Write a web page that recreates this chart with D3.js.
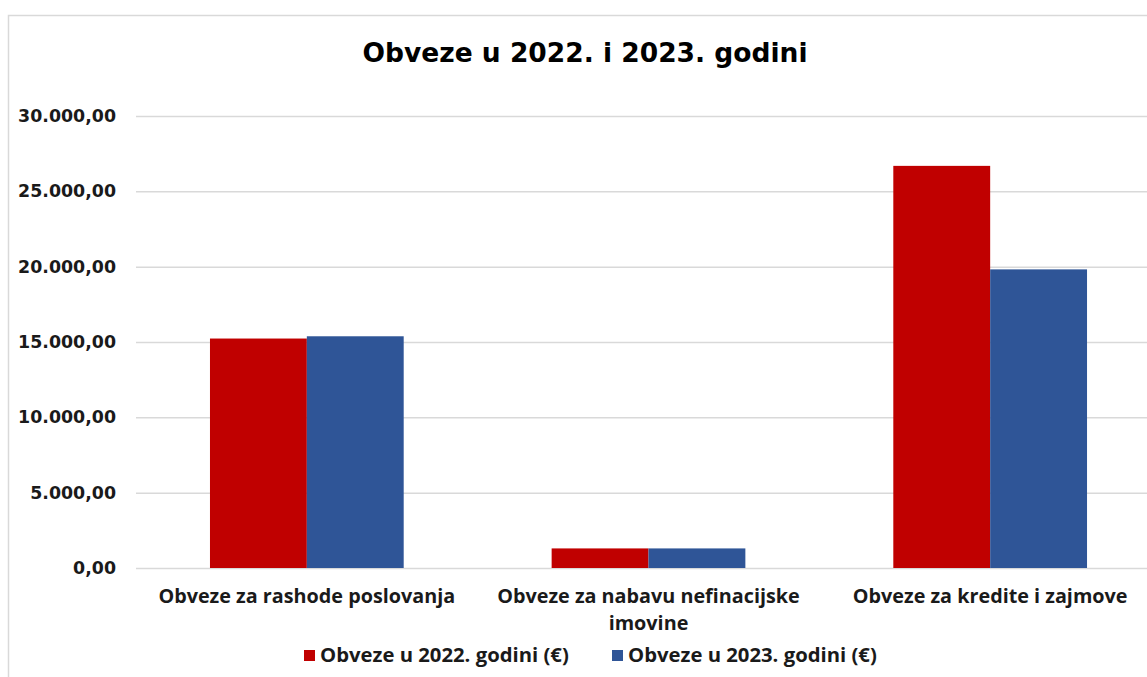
<!DOCTYPE html>
<html><head><meta charset="utf-8">
<script src="https://cdn.jsdelivr.net/npm/d3@7"></script>
<style>body{margin:0;background:#fff}svg{display:block}</style>
</head><body>
<svg id="c" width="1147" height="677"></svg>
<script>
const categories = ["Obveze za rashode poslovanja", "Obveze za nabavu nefinacijske imovine", "Obveze za kredite i zajmove"];
const categoryLines = [["Obveze za rashode poslovanja"], ["Obveze za nabavu  nefinacijske", "imovine"], ["Obveze za kredite i zajmove"]];
const seriesNames = ["Obveze u 2022. godini (€)", "Obveze u 2023. godini (€)"];
const values2022 = [15230, 1300, 26690];
const values2023 = [15380, 1300, 19820];
const yTicks = [0, 5000, 10000, 15000, 20000, 25000, 30000];
const colors = ["#c00000", "#2f5597"];
const title = "Obveze u 2022. i 2023. godini";

const svg = d3.select("#c");
svg.append("rect").attr("x", 8.5).attr("y", 15.5).attr("width", 1200).attr("height", 700)
  .attr("fill", "none").attr("stroke", "#d9d9d9").attr("stroke-width", 1.5);

const x0 = d3.scaleBand().domain(categories).range([136, 1161]).paddingInner(0.433).paddingOuter(0.2165);
const x1 = d3.scaleBand().domain(seriesNames).range([0, x0.bandwidth()]);
const y = d3.scaleLinear().domain([0, 30000]).range([568, 116]);

const fmt = v => d3.format(",.2f")(v).replace(/,/g, "#").replace(/\./g, ",").replace(/#/g, ".");

const g = svg.append("g").attr("class", "y-axis")
  .call(d3.axisLeft(y).tickValues(yTicks).tickSize(-(1161 - 136)).tickFormat(fmt))
  .attr("transform", "translate(136,0)");
g.select(".domain").remove();
g.selectAll(".tick line").attr("stroke", "#d9d9d9").attr("stroke-width", 1.5);
g.selectAll(".tick text").attr("x", -20).attr("fill", "#1a1a1a")
  .style("font-family", "DejaVu Sans").style("font-weight", "bold").style("font-size", "17.4px");

const series = [values2022, values2023];
categories.forEach((c, i) => {
  seriesNames.forEach((s, j) => {
    svg.append("rect")
      .attr("x", x0(c) + x1(s)).attr("width", x1.bandwidth())
      .attr("y", y(series[j][i])).attr("height", y(0) - y(series[j][i]))
      .attr("fill", colors[j]);
  });
});

categories.forEach((c, i) => {
  const t = svg.append("text").attr("x", x0(c) + x0.bandwidth() / 2).attr("y", 603)
    .attr("text-anchor", "middle").attr("fill", "#1a1a1a")
    .style("font-family", "'Open Sans', sans-serif").style("font-weight", "bold").style("font-size", "19.8px");
  categoryLines[i].forEach((ln, k) => {
    t.append("tspan").attr("x", x0(c) + x0.bandwidth() / 2).attr("dy", k === 0 ? 0 : 27).text(ln);
  });
});

svg.append("text").attr("x", 585).attr("y", 62).attr("text-anchor", "middle").attr("fill", "#000")
  .style("font-family", "DejaVu Sans").style("font-weight", "bold").style("font-size", "26.5px").text(title);

const legX = [304, 612];
seriesNames.forEach((s, j) => {
  svg.append("rect").attr("x", legX[j]).attr("y", 650).attr("width", 11).attr("height", 11).attr("fill", colors[j]);
  svg.append("text").attr("x", legX[j] + 16).attr("y", 662).attr("fill", "#1a1a1a")
    .style("font-family", "'Open Sans', sans-serif").style("font-weight", "bold").style("font-size", "20.3px").text(s);
});
</script>
</body></html>
